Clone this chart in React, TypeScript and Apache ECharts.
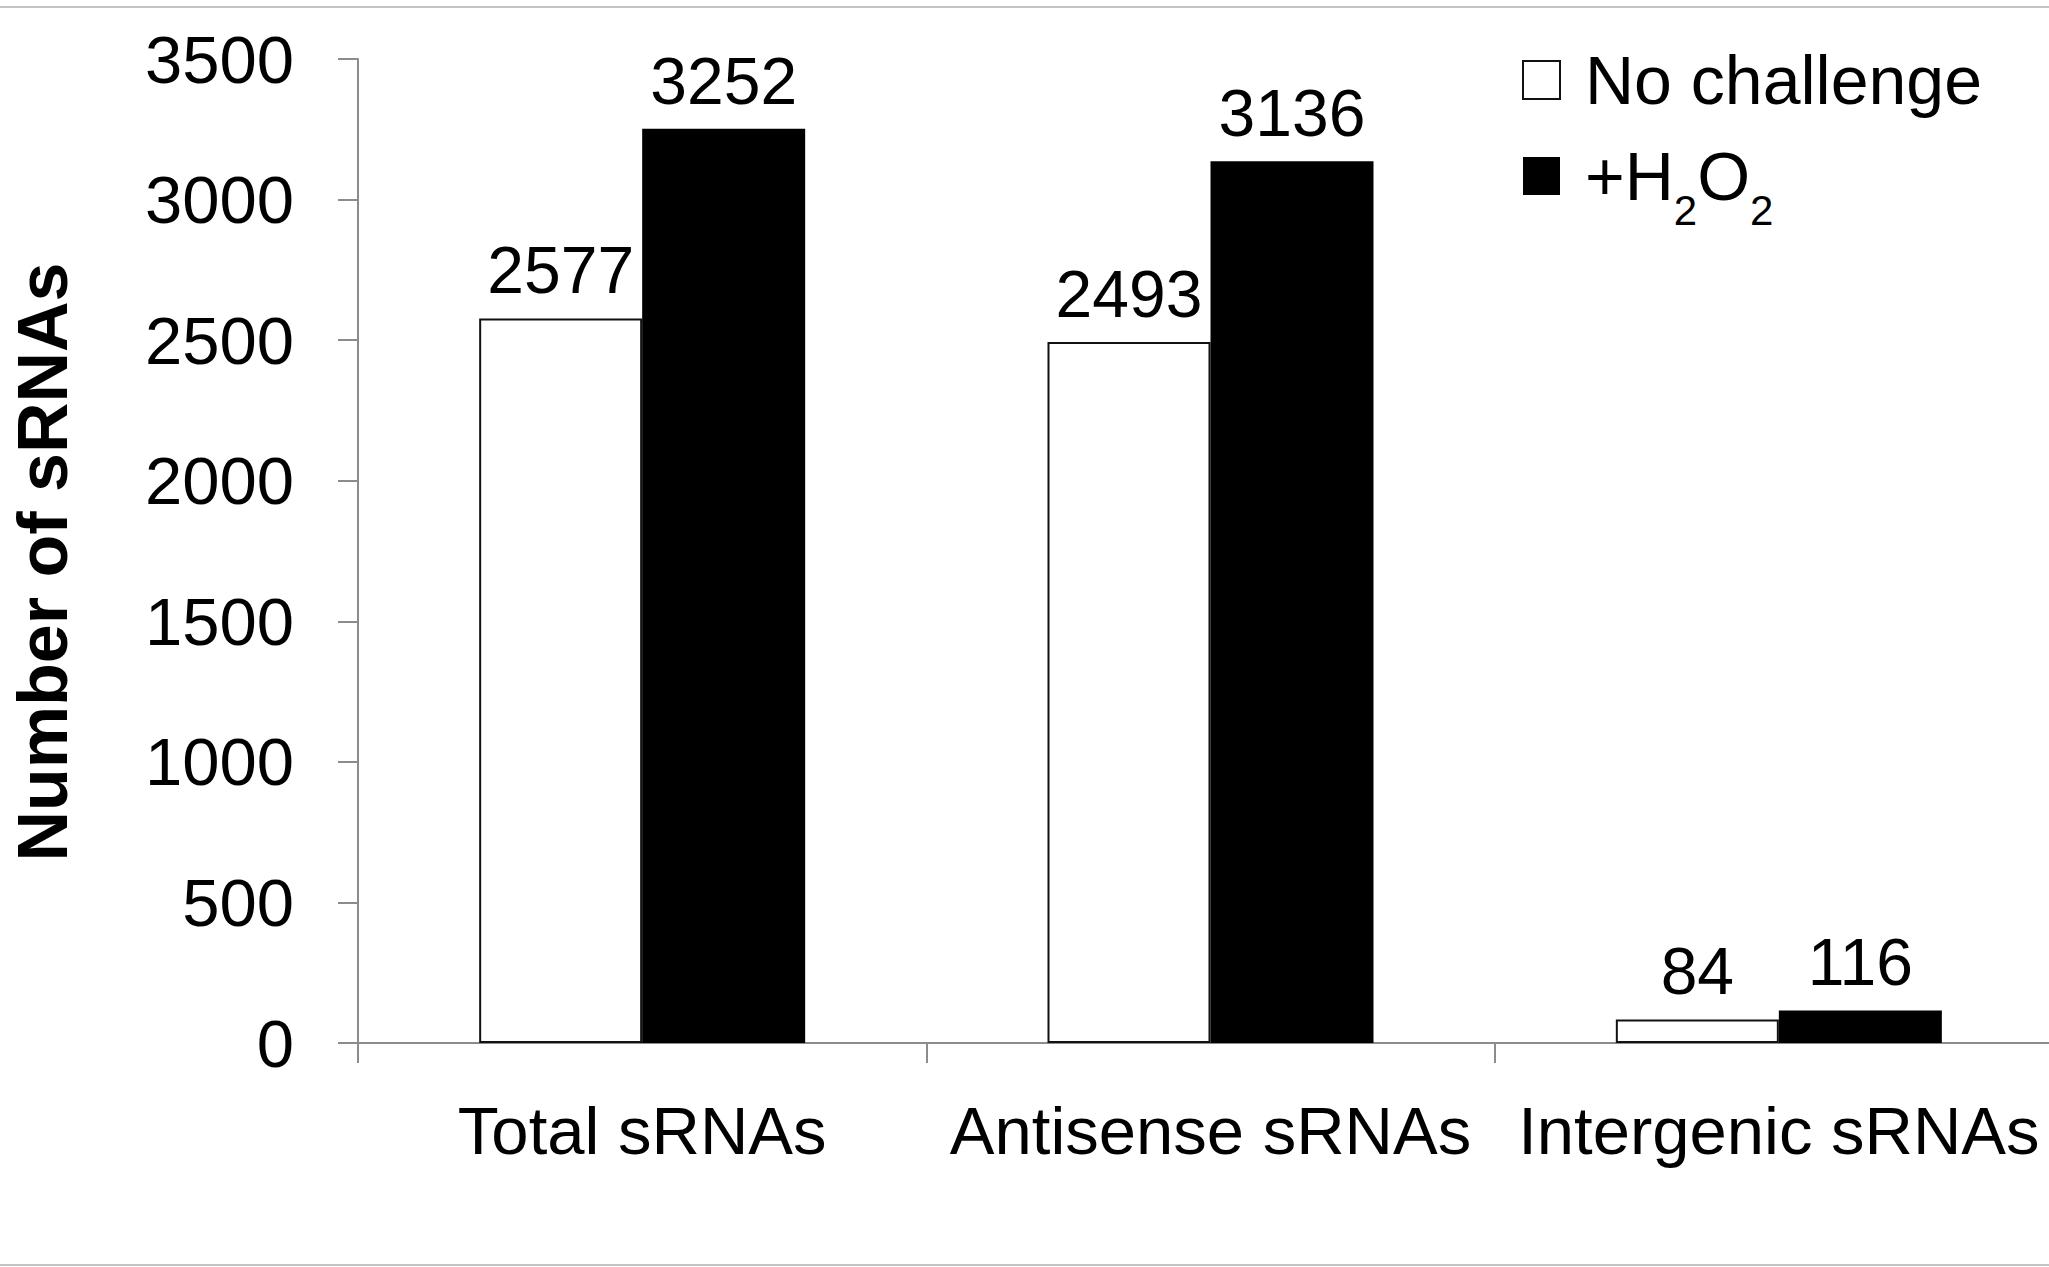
import React, { useEffect, useRef } from "react";
import * as echarts from "echarts";

// Small RNA counts per class, with and without peroxide exposure
const categories = ["Total sRNAs", "Antisense sRNAs", "Intergenic sRNAs"];
const seriesNames = ["No challenge", "+H2O2"];
const noChallenge = [2577, 2493, 84];
const peroxide = [3252, 3136, 116];
const yTicks = { min: 0, max: 3500, interval: 500 };

const FONT = "'Liberation Sans', Arial, Helvetica, sans-serif";
const AXIS_GREY = "#8c8c8c";

export default function App() {
  const ref = useRef<HTMLDivElement>(null);

  useEffect(() => {
    if (!ref.current) return;
    const chart = echarts.init(ref.current, undefined, { renderer: "svg" });
    chart.setOption({
      animation: false,
      backgroundColor: "#ffffff",
      textStyle: { fontFamily: FONT, color: "#000" },
      grid: { left: 350, right: 17, top: 59, bottom: 224, containLabel: false },
      legend: {
        orient: "vertical",
        left: 1522,
        top: 46,
        padding: 0,
        itemWidth: 37,
        itemHeight: 38,
        itemGap: 7,
        icon: "rect",
        selectedMode: false,
        data: seriesNames,
        formatter: (name: string) =>
          name === "+H2O2" ? "{b|+H}{s|2}{b|O}{s|2}" : "{b|" + name + "}",
        textStyle: {
          fontFamily: FONT,
          color: "#000",
          fontSize: 68,
          padding: [0, 0, 0, 20],
          rich: {
            b: { fontFamily: FONT, fontSize: 68, lineHeight: 68, color: "#000", verticalAlign: "middle" },
            s: {
              fontFamily: FONT,
              fontSize: 42,
              lineHeight: 42,
              color: "#000",
              verticalAlign: "middle",
              padding: [68, 0, 0, 0],
            },
          },
        },
      },
      xAxis: {
        type: "category",
        data: categories,
        boundaryGap: true,
        axisLine: { show: true, lineStyle: { color: AXIS_GREY, width: 2 } },
        axisTick: { show: true, length: 20, alignWithLabel: false, interval: 0, lineStyle: { color: AXIS_GREY, width: 2 } },
        axisLabel: { interval: 0, margin: 54, fontSize: 67, color: "#000", fontFamily: FONT },
        splitLine: { show: false },
      },
      yAxis: {
        type: "value",
        min: yTicks.min,
        max: yTicks.max,
        interval: yTicks.interval,
        name: "Number of sRNAs",
        nameLocation: "middle",
        nameGap: 280,
        nameTextStyle: { fontFamily: FONT, fontWeight: "bold", fontSize: 70, color: "#000", padding: [0, 22, 0, 0] },
        axisLine: { show: true, lineStyle: { color: AXIS_GREY, width: 2 } },
        axisTick: { show: true, length: 20, lineStyle: { color: AXIS_GREY, width: 2 } },
        axisLabel: {
          margin: 64,
          fontSize: 67,
          color: "#000",
          fontFamily: FONT,
          formatter: (v: number) => String(v),
        },
        splitLine: { show: false },
      },
      series: [
        {
          name: seriesNames[0],
          type: "bar",
          data: noChallenge,
          barWidth: 163,
          barGap: "0%",
          itemStyle: { color: "#ffffff", borderColor: "#111", borderWidth: 2 },
          label: { show: true, position: "top", distance: 15, fontSize: 66, color: "#000", fontFamily: FONT },
        },
        {
          name: seriesNames[1],
          type: "bar",
          data: peroxide,
          barWidth: 163,
          barGap: "0%",
          itemStyle: { color: "#000000" },
          label: { show: true, position: "top", distance: 15, fontSize: 66, color: "#000", fontFamily: FONT },
        },
      ],
      graphic: [
        { type: "line", shape: { x1: 0, y1: 7, x2: 2080, y2: 7 }, style: { stroke: "#c4c4c4", lineWidth: 2 } },
        { type: "line", shape: { x1: 0, y1: 1265, x2: 2080, y2: 1265 }, style: { stroke: "#c4c4c4", lineWidth: 2 } },
      ],
    });
    return () => chart.dispose();
  }, []);

  return (
    <div
      style={{
        position: "fixed",
        left: 0,
        top: 0,
        width: 2049,
        height: 1267,
        overflow: "hidden",
        background: "#fff",
      }}
    >
      <div ref={ref} style={{ width: 2080, height: 1267 }} />
    </div>
  );
}
